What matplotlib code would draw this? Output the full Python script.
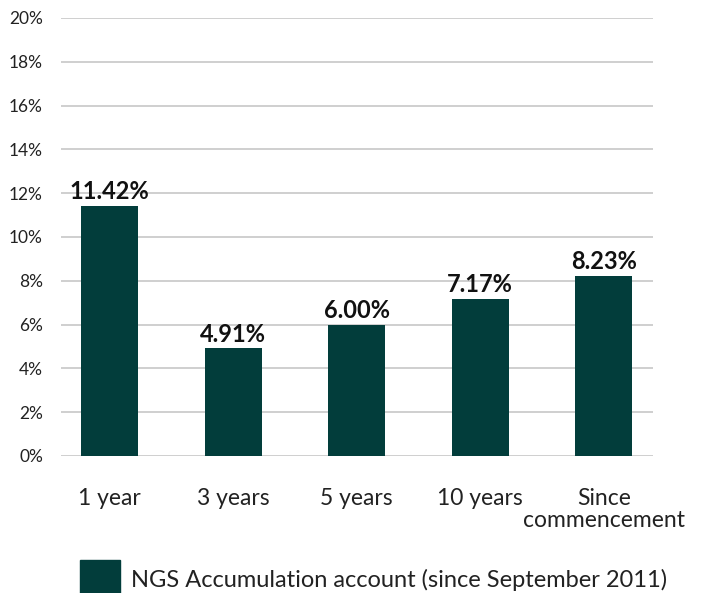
import matplotlib
matplotlib.use("Agg")
import matplotlib.pyplot as plt
from matplotlib.patches import Rectangle
from matplotlib.ticker import FuncFormatter, MultipleLocator

categories = ["1 year", "3 years", "5 years", "10 years", "Since\ncommencement"]
values = [11.42, 4.91, 6.00, 7.17, 8.23]
value_labels = ["11.42%", "4.91%", "6.00%", "7.17%", "8.23%"]
series_name = "NGS Accumulation account (since September 2011)"

bar_color = "#023d3b"
plt.rcParams['font.family'] = ['Lato', 'DejaVu Sans']

fig = plt.figure(figsize=(7.07, 5.93), dpi=100)
ax = fig.add_axes([61/707, 1-456/593, (653-61)/707, (456-18)/593])

x = list(range(len(categories)))
ax.bar(x, values, width=0.46, color=bar_color, zorder=3)
for xi, v, lab in zip(x, values, value_labels):
    ax.text(xi, v + 0.12, lab, ha='center', va='bottom', fontsize=17,
            fontweight='bold', color='#111111', zorder=4)

ax.set_ylim(0, 20)
ax.set_xlim(-0.392, 4.397)
ax.yaxis.set_major_locator(MultipleLocator(2))
ax.yaxis.set_major_formatter(FuncFormatter(lambda v, p: f"{v:.0f}%"))
ax.grid(axis='y', color='#cccccc', linewidth=1.3, zorder=0)
for s in ax.spines.values():
    s.set_visible(False)
ax.tick_params(axis='y', length=0, labelsize=12.5, pad=13, colors='#222222')
ax.tick_params(axis='x', length=0, labelsize=16.5, pad=23, colors='#222222')
ax.set_xticks(x)
ax.set_xticklabels(categories, linespacing=1.05)
ax.set_yticks([0, 2, 4, 6, 8, 10, 12, 14, 16, 18, 20])

# legend
fig.patches.append(Rectangle((80/707, 1-593/593), 40/707, 33/593,
                             transform=fig.transFigure, color=bar_color))
fig.text(131/707, 1-580/593, series_name, fontsize=17, va='center', ha='left',
         color='#222222')

fig.savefig("out.png", dpi=100)
